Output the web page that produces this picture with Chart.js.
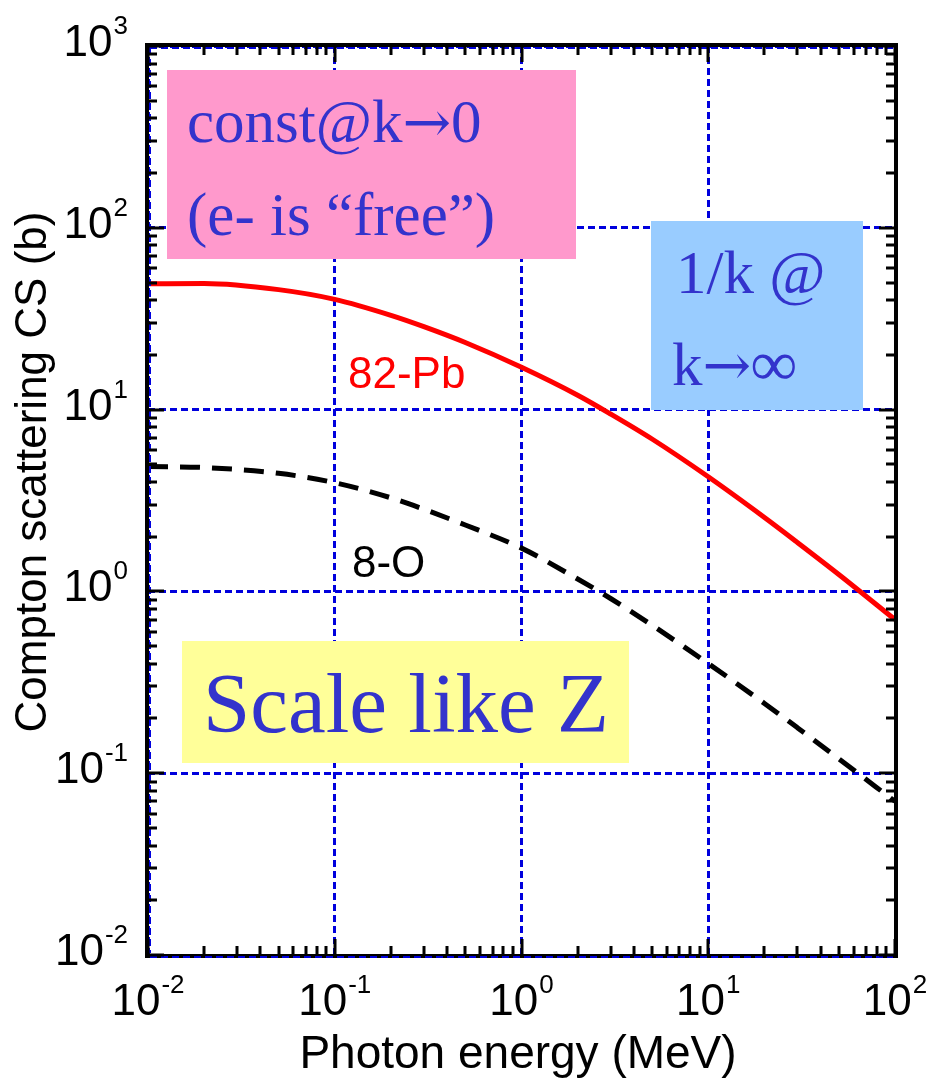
<!DOCTYPE html>
<html>
<head>
<meta charset="utf-8">
<script src="https://cdn.jsdelivr.net/npm/chart.js@4"></script>
<style>
  html, body { margin: 0; padding: 0; background: #fff; }
</style>
</head>
<body>
<canvas id="chart" width="931" height="1079"></canvas>
<script>
// photon energy (MeV) and Compton cross sections (barn)
const energies = [0.01, 0.02, 0.05, 0.1, 0.2, 0.3, 0.5, 1, 2, 3, 5, 10, 20, 30, 50, 100];
const csPb = [49.2, 49.4, 45.7, 40.4, 33.0, 28.6, 23.4, 17.1, 12.0, 9.46, 6.89, 4.27, 2.55, 1.86, 1.24, 0.70];
const csO = [4.86, 4.80, 4.46, 3.96, 3.27, 2.83, 2.32, 1.73, 1.17, 0.914, 0.652, 0.401, 0.242, 0.178, 0.120, 0.070];
const xExponents = [-2, -1, 0, 1, 2];
const yExponents = [-2, -1, 0, 1, 2, 3];
const xTitle = 'Photon energy (MeV)';
const yTitle = 'Compton scattering CS (b)';

const SANS = '"Liberation Sans", Arial, sans-serif';
const SERIF = '"Liberation Serif", "Times New Roman", serif';
const SYM = '"DejaVu Serif", serif';
const NOTE_BLUE = '#3333cc';

// coloured comment boxes (canvas px)
const boxes = [
    { x0: 167, y0: 70, x1: 576, y1: 259, fill: '#ff99cc' },
    { x0: 651, y0: 221, x1: 863, y1: 410, fill: '#99ccff' },
    { x0: 182, y0: 641, x1: 629, y1: 763, fill: '#ffff99' }
];
// each note is a run of [text, font] pieces
const notes = [
    { parts: [['const@k', '61px ' + SERIF], ['\u2192', '58px ' + SYM], ['0', '61px ' + SERIF]], x: 187, y: 142, color: NOTE_BLUE },
    { parts: [['(e- is \u201cfree\u201d)', '61px ' + SERIF]], x: 187, y: 235, color: NOTE_BLUE },
    { parts: [['1/k @', '61px ' + SERIF]], x: 676, y: 293, color: NOTE_BLUE },
    { parts: [['k', '61px ' + SERIF], ['\u2192', '58px ' + SYM], ['\u221e', 'bold 64px ' + SERIF]], x: 672, y: 385, color: NOTE_BLUE },
    { parts: [['Scale like Z', '85px ' + SERIF]], x: 203, y: 732, color: NOTE_BLUE },
    { parts: [['82-Pb', '44px ' + SANS]], x: 348, y: 388, color: '#ff0000' },
    { parts: [['8-O', '44px ' + SANS]], x: 352, y: 577, color: '#000000' }
];

function powLabel(ctx, e, x, y, align) {
    const exp = (e < 0 ? '-' : '') + Math.abs(e);
    ctx.font = '44px ' + SANS;
    const wb = ctx.measureText('10').width;
    ctx.font = '26px ' + SANS;
    const we = ctx.measureText(exp).width;
    const total = wb + we + 1;
    const left = align === 'right' ? x - total : x - total / 2;
    ctx.fillStyle = '#000';
    ctx.textAlign = 'left';
    ctx.textBaseline = 'alphabetic';
    ctx.font = '44px ' + SANS;
    ctx.fillText('10', left, y);
    ctx.font = '26px ' + SANS;
    ctx.fillText(exp, left + wb + 1, y - 22);
}

const decorPlugin = {
    id: 'decor',
    beforeDatasetsDraw(chart) {
        const ctx = chart.ctx;
        ctx.save();
        boxes.forEach(b => {
            ctx.fillStyle = b.fill;
            ctx.fillRect(b.x0, b.y0, b.x1 - b.x0, b.y1 - b.y0);
        });
        ctx.textAlign = 'left';
        ctx.textBaseline = 'alphabetic';
        notes.forEach(n => {
            let x = n.x;
            ctx.fillStyle = n.color;
            n.parts.forEach(([t, f]) => {
                ctx.font = f;
                ctx.fillText(t, x, n.y);
                x += ctx.measureText(t).width;
            });
        });
        ctx.restore();
    },
    afterDraw(chart) {
        const ctx = chart.ctx;
        const a = chart.chartArea;
        const xs = chart.scales.x, ys = chart.scales.y;
        ctx.save();

        // frame
        ctx.strokeStyle = '#000';
        ctx.lineWidth = 4;
        ctx.strokeRect(a.left - 1, a.top - 1, a.right - a.left + 2, a.bottom - a.top + 2);
        // blue dotted grid showing just inside the frame
        ctx.strokeStyle = '#0000dd';
        ctx.lineWidth = 2;
        ctx.setLineDash([7, 4]);
        ctx.beginPath();
        ctx.moveTo(a.left + 2, a.top + 2); ctx.lineTo(a.right - 2, a.top + 2);
        ctx.moveTo(a.left + 2, a.bottom + 2); ctx.lineTo(a.right - 2, a.bottom + 2);
        ctx.moveTo(a.left + 2, a.top + 2); ctx.lineTo(a.left + 2, a.bottom - 2);
        ctx.stroke();
        ctx.setLineDash([]);

        // inward ticks, majors at decades and minors at 2..9
        ctx.strokeStyle = '#000';
        ctx.lineWidth = 3;
        ctx.beginPath();
        yExponents.forEach(e => {
            for (let m = 1; m <= 9; m++) {
                const v = m * Math.pow(10, e);
                if (v > 1000) break;
                const py = Math.round(ys.getPixelForValue(v));
                const len = m === 1 ? 16 : 9;
                ctx.moveTo(a.left, py); ctx.lineTo(a.left + len, py);
                ctx.moveTo(a.right, py); ctx.lineTo(a.right - len, py);
            }
        });
        xExponents.forEach(e => {
            for (let m = 1; m <= 9; m++) {
                const v = m * Math.pow(10, e);
                if (v > 100) break;
                const px = Math.round(xs.getPixelForValue(v));
                const len = m === 1 ? 16 : 9;
                ctx.moveTo(px, a.bottom); ctx.lineTo(px, a.bottom - len);
                ctx.moveTo(px, a.top); ctx.lineTo(px, a.top + len);
            }
        });
        ctx.stroke();

        // tick labels
        yExponents.forEach(e => {
            powLabel(ctx, e, a.left - 20, ys.getPixelForValue(Math.pow(10, e)) + 10, 'right');
        });
        xExponents.forEach(e => {
            powLabel(ctx, e, xs.getPixelForValue(Math.pow(10, e)), 1015, 'center');
        });

        // axis titles
        ctx.fillStyle = '#000';
        ctx.textAlign = 'center';
        ctx.textBaseline = 'alphabetic';
        ctx.font = '46px ' + SANS;
        ctx.fillText(xTitle, 518, 1068);
        ctx.translate(46, 472);
        ctx.rotate(-Math.PI / 2);
        ctx.font = '44px ' + SANS;
        ctx.fillText(yTitle, 0, 0);
        ctx.restore();
    }
};

const decadeTicks = exps => scale => {
    scale.ticks = exps.map(e => ({ value: Math.pow(10, e) }));
};

new Chart(document.getElementById('chart'), {
    type: 'line',
    data: {
        datasets: [
            {
                label: '82-Pb',
                data: energies.map((e, i) => ({ x: e, y: csPb[i] })),
                borderColor: '#ff0000',
                borderWidth: 5,
                pointRadius: 0,
                cubicInterpolationMode: 'monotone',
                fill: false
            },
            {
                label: '8-O',
                data: energies.map((e, i) => ({ x: e, y: csO[i] })),
                borderColor: '#000000',
                borderWidth: 5,
                borderDash: [20, 12],
                pointRadius: 0,
                cubicInterpolationMode: 'monotone',
                fill: false
            }
        ]
    },
    options: {
        responsive: false,
        animation: false,
        layout: { padding: { left: 148, right: 36, top: 46, bottom: 124 } },
        plugins: { legend: { display: false }, tooltip: { enabled: false } },
        scales: {
            x: {
                type: 'logarithmic',
                min: 0.01,
                max: 100,
                afterBuildTicks: decadeTicks(xExponents),
                afterFit: s => { s.height = 0; },
                ticks: { display: false },
                grid: { color: '#0000dd', lineWidth: 3, drawTicks: false },
                border: { display: false, dash: [7, 4] }
            },
            y: {
                type: 'logarithmic',
                min: 0.01,
                max: 1000,
                afterBuildTicks: decadeTicks(yExponents),
                afterFit: s => { s.width = 0; },
                ticks: { display: false },
                grid: { color: '#0000dd', lineWidth: 3, drawTicks: false },
                border: { display: false, dash: [7, 4] }
            }
        }
    },
    plugins: [decorPlugin]
});
</script>
</body>
</html>
